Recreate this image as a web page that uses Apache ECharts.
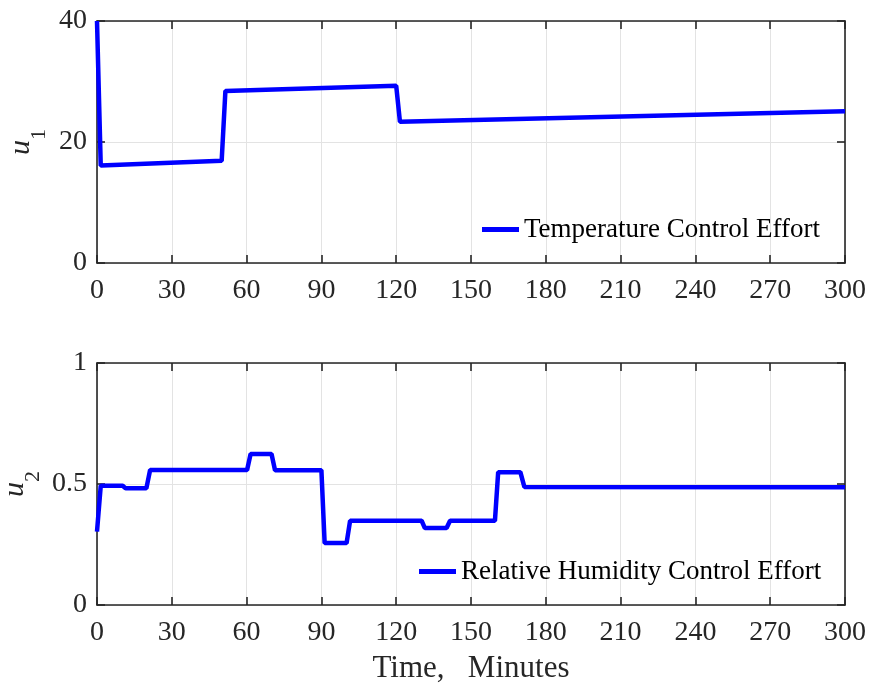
<!DOCTYPE html>
<html>
<head>
<meta charset="utf-8">
<script src="https://cdn.jsdelivr.net/npm/echarts@6/dist/echarts.min.js"></script>
<style>
html,body{margin:0;padding:0;background:#fff;}
#chart{width:869px;height:687px;}
</style>
</head>
<body>
<div id="chart"></div>
<script>
// ---- data ----
var u1Time  = [0, 1.5, 50, 51.5, 120, 121.5, 300];
var u1Value = [40, 16.1, 16.9, 28.45, 29.3, 23.35, 25.1];

var u2Time  = [0, 1.5, 10.3, 11.5, 19.8, 21.3, 60.2, 61.6, 70, 71.4, 90, 91.3, 100.1, 101.5, 130.2, 131.5, 140.2, 141.6, 159.6, 160.9, 169.8, 171.4, 300];
var u2Value = [0.303, 0.493, 0.493, 0.482, 0.482, 0.558, 0.558, 0.624, 0.624, 0.557, 0.557, 0.256, 0.256, 0.348, 0.348, 0.318, 0.318, 0.348, 0.348, 0.549, 0.549, 0.488, 0.487];

var xTicks = [0, 30, 60, 90, 120, 150, 180, 210, 240, 270, 300];
var u1Ticks = [0, 20, 40];
var u2Ticks = [0, 0.5, 1];

var name1 = 'Temperature Control Effort';
var name2 = 'Relative Humidity Control Effort';
var xName = 'Time,   Minutes';

function pairs(t, v) { return t.map(function (x, i) { return [x, v[i]]; }); }

var FONT = 'Liberation Serif, Times New Roman, serif';
var AX = '#262626';

function xAx(gi, pos, showLabel, name) {
  var o = {
    type: 'value', gridIndex: gi, position: pos,
    min: xTicks[0], max: xTicks[xTicks.length - 1], interval: xTicks[1] - xTicks[0],
    axisLine: { show: true, onZero: false, lineStyle: { color: AX, width: 1.6 } },
    axisTick: { show: true, inside: true, length: 8, lineStyle: { color: AX, width: 1.6 } },
    axisLabel: { show: showLabel, margin: 14, fontSize: 28, fontFamily: FONT, color: AX },
    splitLine: { show: showLabel, lineStyle: { color: '#e3e3e3', width: 1 } }
  };
  if (name) {
    o.name = name; o.nameLocation = 'middle'; o.nameGap = 48;
    o.nameTextStyle = { fontSize: 31, fontFamily: FONT, color: AX };
  }
  return o;
}
function yAx(gi, pos, ticks, showLabel, sub, gap) {
  var o = {
    type: 'value', gridIndex: gi, position: pos,
    min: ticks[0], max: ticks[ticks.length - 1], interval: ticks[1] - ticks[0],
    axisLine: { show: true, onZero: false, lineStyle: { color: AX, width: 1.6 } },
    axisTick: { show: true, inside: true, length: 8, lineStyle: { color: AX, width: 1.6 } },
    axisLabel: { show: showLabel, margin: 10, fontSize: 28, fontFamily: FONT, color: AX },
    splitLine: { show: showLabel, lineStyle: { color: '#e3e3e3', width: 1 } }
  };
  if (sub) {
    o.name = '{u|u}{s|' + sub + '}';
    o.nameLocation = 'middle';
    o.nameRotate = 90;
    o.nameGap = gap;
    o.nameMoveOverlap = false;
    o.nameTextStyle = {
      color: AX, fontFamily: FONT,
      rich: {
        u: { fontSize: 30, fontStyle: 'italic', fontFamily: FONT, color: AX, lineHeight: 30, verticalAlign: 'top' },
        s: { fontSize: 22, fontFamily: FONT, color: AX, lineHeight: 22, verticalAlign: 'top', padding: [22, 0, 0, 0] }
      }
    };
  }
  return o;
}

var chart = echarts.init(document.getElementById('chart'), null, { renderer: 'canvas' });
chart.setOption({
  animation: false,
  backgroundColor: '#ffffff',
  grid: [
    { left: 97, top: 21, width: 748, height: 242, containLabel: false, outerBoundsMode: 'none' },
    { left: 97, top: 363, width: 748, height: 242, containLabel: false, outerBoundsMode: 'none' }
  ],
  xAxis: [
    xAx(0, 'bottom', true),
    xAx(1, 'bottom', true, xName),
    xAx(0, 'top', false),
    xAx(1, 'top', false)
  ],
  yAxis: [
    yAx(0, 'left', u1Ticks, true, '1', 61),
    yAx(1, 'left', u2Ticks, true, '2', 67),
    yAx(0, 'right', u1Ticks, false),
    yAx(1, 'right', u2Ticks, false)
  ],
  legend: [
    { data: [name1], left: 482, top: 216, padding: 0, icon: 'rect', itemWidth: 37, itemHeight: 5, itemGap: 4,
      textStyle: { fontSize: 27, fontFamily: FONT, color: '#000' } },
    { data: [name2], left: 419, top: 558, padding: 0, icon: 'rect', itemWidth: 37, itemHeight: 5, itemGap: 4,
      textStyle: { fontSize: 27, fontFamily: FONT, color: '#000' } }
  ],
  series: [
    { name: name1, type: 'line', xAxisIndex: 0, yAxisIndex: 0, data: pairs(u1Time, u1Value),
      showSymbol: false, symbol: 'none', lineStyle: { color: '#0000ff', width: 4.5 }, itemStyle: { color: '#0000ff' } },
    { name: name2, type: 'line', xAxisIndex: 1, yAxisIndex: 1, data: pairs(u2Time, u2Value),
      showSymbol: false, symbol: 'none', lineStyle: { color: '#0000ff', width: 4.5 }, itemStyle: { color: '#0000ff' } }
  ]
});
</script>
</body>
</html>
